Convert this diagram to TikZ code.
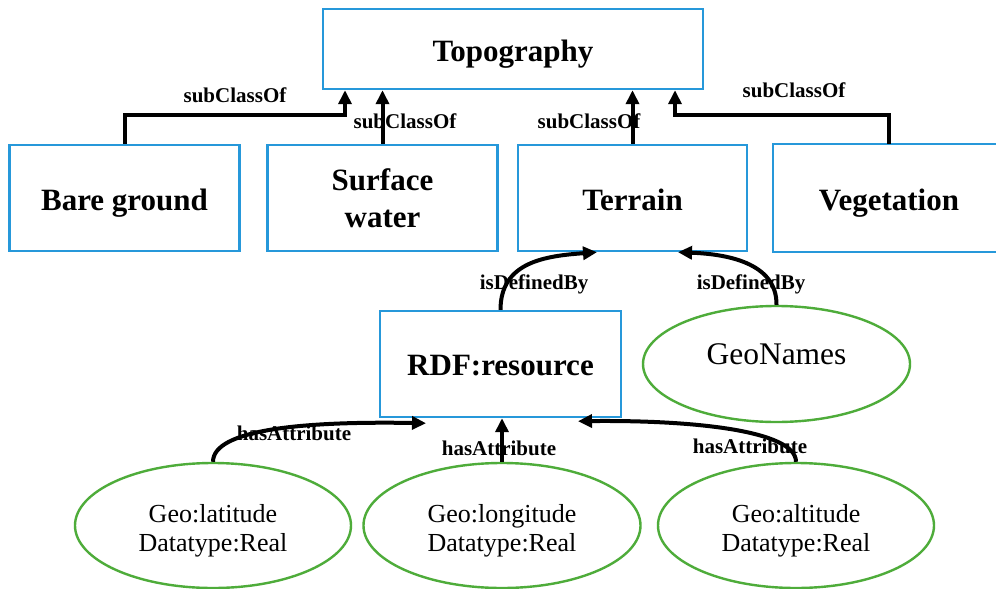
\documentclass[tikz,border=0pt]{standalone}
\usepackage{fontspec}
\setmainfont{Liberation Serif}
\usetikzlibrary{arrows.meta,shapes.geometric,calc}
\definecolor{boxblue}{RGB}{38,152,218}
\definecolor{ellgreen}{RGB}{78,172,58}
\begin{document}
\begin{tikzpicture}[x=1pt,y=-1pt,
  boxline/.style={draw=boxblue,line width=2.4pt},
  classbox/.style={boxline,rectangle,minimum height=106pt,
    minimum width=230pt,align=center,inner sep=0pt,
    font=\fontsize{31}{36.6}\selectfont\bfseries},
  oneline/.style={text height=25pt,text depth=0pt},
  litnode/.style={draw=ellgreen,line width=2.4pt,ellipse,inner sep=0pt,align=center,
    font=\fontsize{26}{29}\selectfont},
  twoline/.style={text height=56pt,text depth=5pt},
  rel/.style={font=\fontsize{21}{23}\selectfont\bfseries,inner sep=0pt},
  arr/.style={line width=4pt,-{Triangle[width=13pt,length=14pt]}}]
\useasboundingbox[fill=white] (0,0) rectangle (996,589);

% class boxes
\node[classbox,oneline,minimum width=380pt,minimum height=80pt] (topo) at (513,49) {Topography};
\node[classbox,oneline] (bare) at (124.5,198) {Bare ground};
\node[classbox] (surf) at (382.5,198) {Surface\\water};
\node[classbox,oneline,minimum width=229pt] (terr) at (632.5,198) {Terrain};
\node[classbox,oneline,draw=none,minimum width=230pt] (veg) at (889,198) {Vegetation};
% the Vegetation box runs off the right edge of the sheet
\draw[boxline] ([xshift=20pt]veg.north east) -- (veg.north west) -- (veg.south west) -- ([xshift=20pt]veg.south east);
\node[classbox,minimum width=241pt,text height=22pt,text depth=0pt] (rdf) at (500.5,364) {RDF:resource};

% literal / external ellipses
\node[litnode,minimum width=267pt,minimum height=116pt,font=\fontsize{31.5}{34}\selectfont,
  text height=11pt,text depth=11pt] (geo) at (776.5,364) {GeoNames};
\node[litnode,twoline,minimum width=276pt,minimum height=125pt] (lat) at (213,525.5) {Geo:latitude\\Datatype:Real};
\node[litnode,twoline,minimum width=277pt,minimum height=125pt] (lon) at (502,525.5) {Geo:longitude\\Datatype:Real};
\node[litnode,twoline,minimum width=276pt,minimum height=125pt] (alt) at (796,525.5) {Geo:altitude\\Datatype:Real};

% subClassOf links
\draw[arr] (bare.north) -- ++(0,-29) -| ([xshift=-168pt]topo.south);
\draw[arr] (surf.north) -- (surf.north |- topo.south);
\draw[arr] (terr.north) -- (terr.north |- topo.south);
\draw[arr] (veg.north) -- ++(0,-29) -| ([xshift=162pt]topo.south);
\node[rel] (l1) at (235,95) {subClassOf};
\node[rel] (l2) at (405,121) {subClassOf};
\node[rel] (l3) at (589,121) {subClassOf};
\node[rel] (l4) at (794,90) {subClassOf};

% isDefinedBy links
\draw[arr] (rdf.north) .. controls (500.5,262) and (545,256) .. ([xshift=-35.5pt]terr.south);
\draw[arr] (geo.north) .. controls (777,262) and (725,254) .. ([xshift=45.5pt]terr.south);
\node[rel] (l5) at (534,284) {isDefinedBy};
\node[rel] (l6) at (751,284) {isDefinedBy};

% hasAttribute links
\draw[arr] (lat.north) .. controls (213,430) and (300,421) .. ([shift={(-74.5pt,-5pt)}]rdf.south);
\draw[arr] (lon.north) -- (lon.north |- rdf.south);
\draw[arr] (alt.north) .. controls (796,430) and (690,420) .. ([shift={(77.5pt,-3pt)}]rdf.south);
\node[rel] (l7) at (294,433) {hasAttribute};
\node[rel] (l8) at (499,448) {hasAttribute};
\node[rel] (l9) at (750,446) {hasAttribute};
\end{tikzpicture}
\end{document}
